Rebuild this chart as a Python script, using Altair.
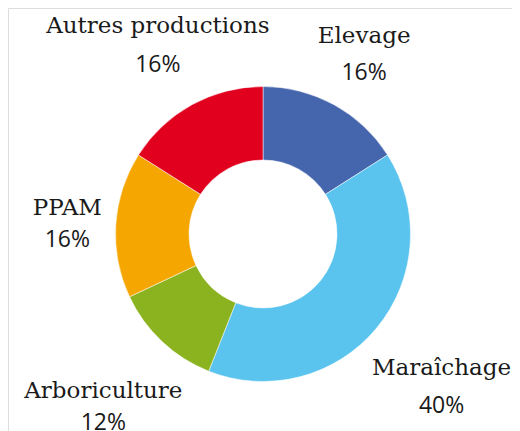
import altair as alt
import pandas as pd

categories = ["Elevage", "Maraîchage", "Arboriculture", "PPAM", "Autres productions"]
shares = [16, 40, 12, 16, 16]
pct_labels = ["16%", "40%", "12%", "16%", "16%"]
colors = ["#4565AD", "#5AC4EF", "#8BB31F", "#F5A600", "#E2001F"]

df = pd.DataFrame({
    "cat": categories,
    "share": shares,
    "pct": pct_labels,
    "order": list(range(len(categories))),
})

# label nudges (dx, dy for name; dy for percentage), layout only
nudges = {
    "Elevage": (12, -29, 8),
    "Autres productions": (-16, -39, 0),
    "PPAM": (-11, -7, 25),
    "Arboriculture": (-33, 29, 61),
    "Maraîchage": (36, 23, 61),
}

CX, CY = 255, 226
R_OUT, R_IN, R_LBL = 147.5, 74, 185

base = alt.Chart(df).encode(
    theta=alt.Theta("share:Q", stack=True),
    order=alt.Order("order:Q"),
    x=alt.value(CX),
    y=alt.value(CY),
)

arcs = base.mark_arc(outerRadius=R_OUT, innerRadius=R_IN, stroke="white", strokeWidth=0.5).encode(
    color=alt.Color("cat:N", scale=alt.Scale(domain=categories, range=colors), legend=None),
)

layers = [arcs]
for cat, (dx, dy_name, dy_pct) in nudges.items():
    layers.append(
        base.mark_text(radius=R_LBL, dx=dx, dy=dy_name, align="center", baseline="alphabetic",
                       font="DejaVu Serif", fontSize=23, color="#1a1a1a")
        .encode(text="cat:N", opacity=alt.condition(alt.datum.cat == cat, alt.value(1), alt.value(0)))
    )
    layers.append(
        base.mark_text(radius=R_LBL, dx=dx, dy=dy_pct, align="center", baseline="alphabetic",
                       font="Open Sans", fontSize=23, color="#1a1a1a")
        .encode(text="pct:N", opacity=alt.condition(alt.datum.cat == cat, alt.value(1), alt.value(0)))
    )

chart = alt.layer(*layers).properties(
    width=504, height=423, padding=0, autosize=alt.AutoSizeParams(type="none")
).configure_view(stroke=None).configure(background="white")

chart.save("out.html", embed_options={"renderer": "svg", "actions": False})
